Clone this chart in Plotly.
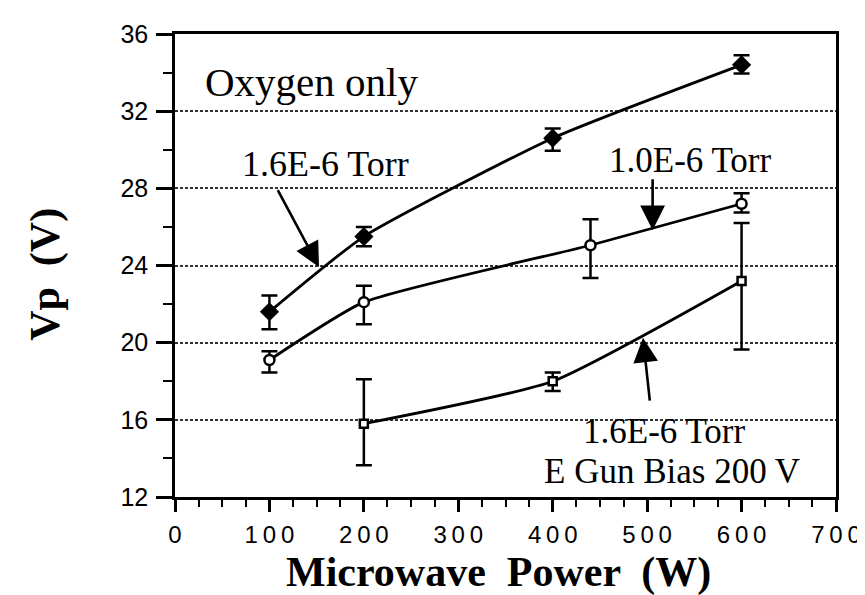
import plotly.graph_objects as go

# ---- data ----
power_hi = [100, 200, 400, 600]
vp_hi = [21.6, 25.5, 30.6, 34.4]
vp_hi_plus = [0.85, 0.5, 0.5, 0.5]
vp_hi_minus = [0.9, 0.5, 0.65, 0.45]

power_lo = [100, 200, 440, 600]
vp_lo = [19.1, 22.1, 25.05, 27.2]
vp_lo_plus = [0.45, 0.85, 1.35, 0.55]
vp_lo_minus = [0.65, 1.15, 1.7, 0.45]

power_gun = [200, 400, 600]
vp_gun = [15.8, 18.0, 23.2]
vp_gun_plus = [2.3, 0.45, 3.0]
vp_gun_minus = [2.15, 0.5, 3.55]

x_ticks = [0, 100, 200, 300, 400, 500, 600, 700]
x_tick_labels = ["0", "1\u20090\u20090", "2\u20090\u20090", "3\u20090\u20090", "4\u20090\u20090",
                 "5\u20090\u20090", "6\u20090\u20090", "7\u20090\u20090"]
y_ticks = [12, 16, 20, 24, 28, 32, 36]
y_tick_labels = ["12", "16", "20", "24", "28", "32", "36"]

x_title = "Microwave  Power  (W)"
y_title = "Vp  (V)"

SERIF = "Liberation Serif, Times New Roman, serif"
SANS = "Liberation Sans, Arial, sans-serif"

fig = go.Figure()

def add_series(x, y, plus, minus, symbol, size, fill):
    fig.add_trace(go.Scatter(
        x=x, y=y, mode="lines+markers",
        line=dict(color="black", width=2.8, shape="spline", smoothing=0.5),
        marker=dict(symbol=symbol, size=size, color=fill,
                    line=dict(color="black", width=2.5)),
        error_y=dict(type="data", array=plus, arrayminus=minus,
                     color="black", thickness=2.5, width=8),
        showlegend=False,
    ))

add_series(power_hi, vp_hi, vp_hi_plus, vp_hi_minus, "diamond", 12, "black")
add_series(power_lo, vp_lo, vp_lo_plus, vp_lo_minus, "circle", 10, "white")
add_series(power_gun, vp_gun, vp_gun_plus, vp_gun_minus, "square", 8, "white")

# text labels
labels = [
    ("Oxygen only", 145, 33.5, 41),
    ("1.6E-6 Torr", 159, 29.27, 36),
    ("1.0E-6 Torr", 545, 29.42, 35),
    ("1.6E-6 Torr", 518, 15.39, 35),
    ("E Gun Bias 200 V", 526, 13.34, 35),
]
for txt, x, y, s in labels:
    fig.add_annotation(x=x, y=y, xref="x", yref="y", text=txt, showarrow=False,
                       xanchor="center", yanchor="middle",
                       font=dict(family=SERIF, size=s, color="black"))

# arrows (tail -> head)
arrows = [
    (108, 27.98, 152.5, 23.92),
    (505.8, 28.55, 505.8, 25.83),
    (503, 16.92, 495.6, 20.26),
]
for ax, ay, x, y in arrows:
    fig.add_annotation(x=x, y=y, ax=ax, ay=ay, xref="x", yref="y",
                       axref="x", ayref="y", text="", showarrow=True,
                       arrowhead=2, arrowsize=1.9, arrowwidth=2.6,
                       arrowcolor="black", standoff=0)

# axis titles
fig.add_annotation(x=0.49, y=-0.162, xref="paper", yref="paper",
                   text="<b>" + x_title + "</b>", showarrow=False,
                   xanchor="center", yanchor="middle",
                   font=dict(family=SERIF, size=42, color="black"))
fig.add_annotation(x=-0.195, y=0.48, xref="paper", yref="paper",
                   text="<b>" + y_title + "</b>", showarrow=False, textangle=-90,
                   xanchor="center", yanchor="middle",
                   font=dict(family=SERIF, size=42, color="black"))

fig.update_xaxes(
    range=[0, 700], tickvals=x_ticks, ticktext=x_tick_labels,
    ticks="outside", ticklen=12, tickwidth=2.5, tickcolor="black",
    ticklabelstandoff=2,
    showline=True, linecolor="black", linewidth=2.5, mirror=True,
    showgrid=False, zeroline=False,
    tickfont=dict(family=SANS, size=24, color="black"),
    minor=dict(dtick=25, ticks="outside", ticklen=7, tickwidth=2, tickcolor="black"),
)
fig.update_yaxes(
    range=[12, 36], tickvals=y_ticks, ticktext=y_tick_labels,
    ticks="outside", ticklen=16, tickwidth=2.5, tickcolor="black",
    ticklabelstandoff=3,
    showline=True, linecolor="black", linewidth=2.5, mirror=True,
    showgrid=True, gridcolor="#333", gridwidth=2, griddash="3px,2px",
    zeroline=False,
    tickfont=dict(family=SANS, size=25, color="black"),
    minor=dict(dtick=2, ticks="outside", ticklen=9, tickwidth=2, tickcolor="black", showgrid=False),
)

fig.update_layout(
    width=865, height=595,
    margin=dict(l=167, r=32, t=22, b=106),
    plot_bgcolor="white", paper_bgcolor="white",
)

fig.write_html("out.html")
